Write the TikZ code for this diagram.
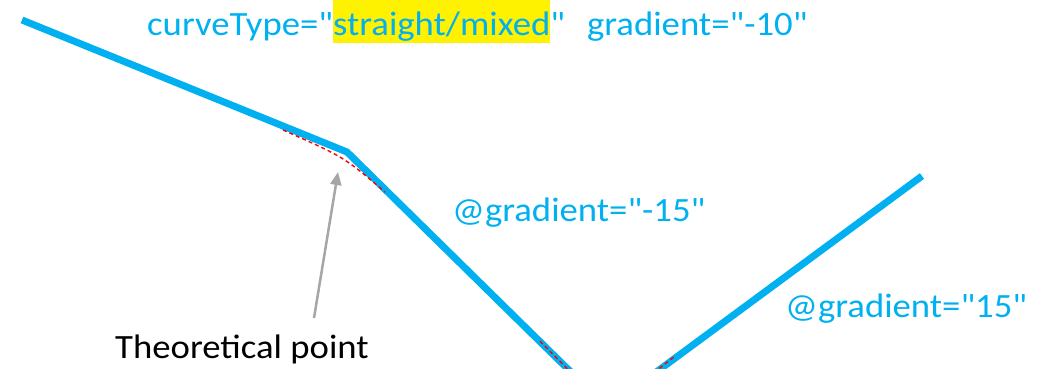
\documentclass[tikz,border=0pt]{standalone}
\usepackage{fontspec}
\setmainfont{Carlito}[Ligatures=TeXOff,FakeStretch=1.08]
\usetikzlibrary{arrows.meta}
\definecolor{lineblue}{RGB}{0,176,240}
\definecolor{arrowgray}{RGB}{166,166,166}
\tikzset{
  gradline/.style={draw=lineblue, line width=7pt, line join=miter},
  theorycurve/.style={draw=red, line width=1.4pt, dash pattern=on 4pt off 3pt},
  pointer/.style={draw=arrowgray, line width=2.5pt, -{Triangle[length=13pt,width=11pt]}},
  bluelabel/.style={anchor=base west, inner sep=0pt, text=lineblue, font=\fontsize{34}{40}\selectfont},
  blacklabel/.style={anchor=base west, inner sep=0pt, text=black, font=\fontsize{34}{40}\selectfont}
}
\begin{document}
\begin{tikzpicture}[x=1pt,y=-1pt]
\useasboundingbox (0,0) rectangle (1041,369);
\begin{scope}
\clip (0,0) rectangle (1041,369);
\coordinate (start) at (22,20);
\coordinate (corner) at (347,152);
\coordinate (valley) at (607.5,408);
\coordinate (rend) at (922,176);
\draw[gradline] (start) -- (corner) -- (valley) -- (rend);
\draw[theorycurve] (283,130) .. controls (344,157) .. (385,192);
\draw[theorycurve] (540,341) .. controls (607,410) .. (675,356);
\end{scope}
\node[bluelabel] (title) at (147,36) {curveType="{\setlength{\fboxsep}{0pt}\colorbox{yellow}{\rule[-7pt]{0pt}{43pt}straight/mixed}}"\hspace{22pt}gradient="-10"};
\node[bluelabel] (g1) at (452,221) {@gradient="-15"};
\node[bluelabel] (g2) at (785,317) {@gradient="15"};
\node[blacklabel] (theo) at (115,358) {Theoretical point};
\coordinate (tail) at (314,318);
\coordinate (tip) at (338,172);
\draw[pointer] (tail) -- (tip);
\end{tikzpicture}
\end{document}
